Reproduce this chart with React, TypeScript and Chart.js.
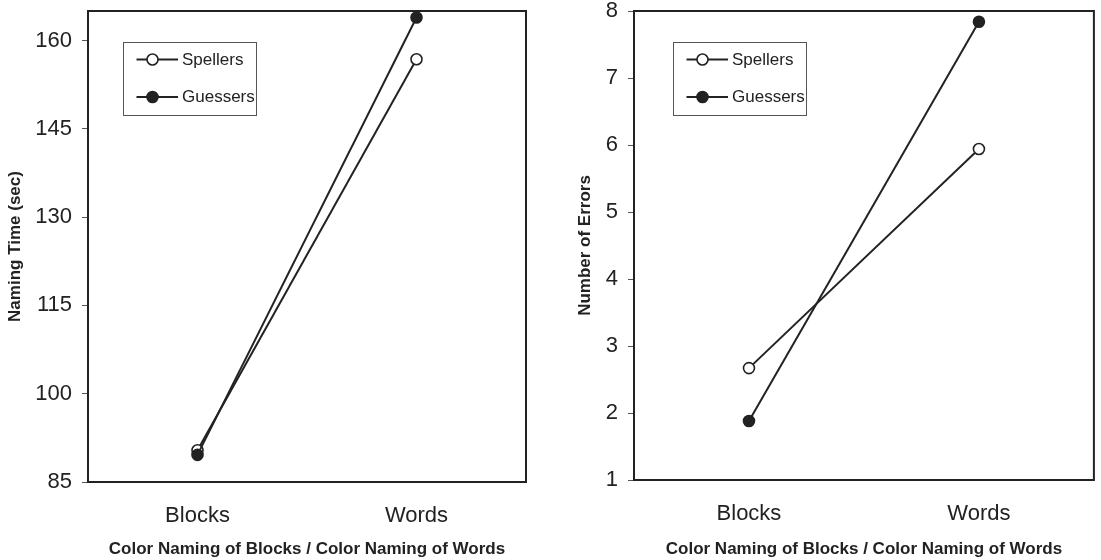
import { useEffect, useRef } from "react";
import { Chart, registerables } from "chart.js";

Chart.register(...registerables);

const CATEGORIES = ["Blocks", "Words"];
const SERIES_NAMES = ["Spellers", "Guessers"];
const TIME_SPELLERS = [90.4, 156.8];
const TIME_GUESSERS = [89.6, 163.9];
const ERR_SPELLERS = [2.67, 5.94];
const ERR_GUESSERS = [1.88, 7.84];
const TIME_TICKS = [85, 100, 115, 130, 145, 160];
const ERR_TICKS = [1, 2, 3, 4, 5, 6, 7, 8];
const X_TITLE = "Color Naming of Blocks / Color Naming of Words";
const TIME_TITLE = "Naming Time (sec)";
const ERR_TITLE = "Number of Errors";

const INK = "#222222";
const FONT = "'Liberation Sans', Arial, Helvetica, sans-serif";

const boxLegend = {
  id: "boxLegend",
  afterDraw(chart: any, _args: any, opts: any) {
    const { ctx, chartArea } = chart;
    ctx.save();
    // plot frame
    ctx.strokeStyle = INK;
    ctx.lineWidth = 2;
    ctx.strokeRect(
      chartArea.left,
      chartArea.top,
      chartArea.right - chartArea.left,
      chartArea.bottom - chartArea.top
    );
    // legend box
    const bx = Math.round(chartArea.left + opts.dx);
    const by = Math.round(chartArea.top + opts.dy);
    ctx.lineWidth = 1;
    ctx.strokeStyle = "#555555";
    ctx.strokeRect(bx + 0.5, by + 0.5, opts.w, opts.h);
    const rows = [17.5, 55];
    chart.data.datasets.forEach((ds: any, i: number) => {
      const y = by + rows[i];
      ctx.strokeStyle = INK;
      ctx.lineWidth = 2;
      ctx.beginPath();
      ctx.moveTo(bx + 13.5, y);
      ctx.lineTo(bx + 55, y);
      ctx.stroke();
      ctx.beginPath();
      ctx.arc(bx + 29.5, y, 5.5, 0, Math.PI * 2);
      ctx.fillStyle = ds.pointBackgroundColor;
      ctx.fill();
      ctx.lineWidth = 1.6;
      ctx.stroke();
      ctx.fillStyle = INK;
      ctx.font = `17px ${FONT}`;
      ctx.textAlign = "left";
      ctx.textBaseline = "middle";
      ctx.fillText(ds.label, bx + 59, y + 0.5);
    });
    ctx.restore();
  },
};

type PanelProps = {
  left: number;
  width: number;
  yMin: number;
  yMax: number;
  yTicks: number[];
  yTitle: string;
  spellers: number[];
  guessers: number[];
  yAxisWidth: number;
  xAxisHeight: number;
  rightPad: number;
  yTitlePad: number;
  legendDx: number;
};

function Panel(p: PanelProps) {
  const ref = useRef<HTMLCanvasElement>(null);
  useEffect(() => {
    const chart = new Chart(ref.current as HTMLCanvasElement, {
      type: "line",
      data: {
        labels: CATEGORIES,
        datasets: [
          {
            label: SERIES_NAMES[0],
            data: p.spellers,
            borderColor: INK,
            borderWidth: 2,
            pointRadius: 5.5,
            pointBorderWidth: 1.6,
            pointBorderColor: INK,
            pointBackgroundColor: "#ffffff",
            order: 2,
          },
          {
            label: SERIES_NAMES[1],
            data: p.guessers,
            borderColor: INK,
            borderWidth: 2,
            pointRadius: 5.5,
            pointBorderWidth: 1.6,
            pointBorderColor: INK,
            pointBackgroundColor: INK,
            order: 1,
          },
        ],
      },
      options: {
        responsive: false,
        animation: false,
        layout: { padding: { top: 11, right: p.rightPad, bottom: 0, left: 0 } },
        plugins: {
          legend: { display: false },
          tooltip: { enabled: false },
          boxLegend: { dx: p.legendDx, dy: 31, w: 133, h: 73 },
        } as any,
        scales: {
          x: {
            type: "category",
            offset: true,
            grid: { display: false, drawTicks: false },
            border: { display: false },
            ticks: {
              padding: 21,
              color: INK,
              maxRotation: 0,
              font: { family: FONT, size: 22 },
            },
            title: {
              display: true,
              text: X_TITLE,
              color: INK,
              font: { family: FONT, size: 17, weight: "bold" },
              padding: { top: 0, bottom: 0 },
            },
            afterFit: (s: any) => {
              s.height = p.xAxisHeight;
              s.paddingLeft = 0;
              s.paddingRight = 0;
            },
          },
          y: {
            type: "linear",
            min: p.yMin,
            max: p.yMax,
            grid: {
              drawOnChartArea: false,
              drawTicks: true,
              tickLength: 6,
              color: "#555555",
              lineWidth: 1,
            },
            border: { display: false },
            ticks: {
              padding: 10,
              color: INK,
              font: { family: FONT, size: 22 },
            },
            afterBuildTicks: (s: any) => {
              s.ticks = p.yTicks.map((v) => ({ value: v }));
            },
            title: {
              display: true,
              text: p.yTitle,
              color: INK,
              font: { family: FONT, size: 17, weight: "bold" },
              padding: { top: p.yTitlePad, bottom: 0 },
            },
            afterFit: (s: any) => {
              s.width = p.yAxisWidth;
              s.paddingTop = 0;
              s.paddingBottom = 0;
            },
          },
        } as any,
      },
      plugins: [boxLegend],
    });
    return () => chart.destroy();
  }, []);
  return (
    <canvas
      ref={ref}
      width={p.width}
      height={560}
      style={{ position: "absolute", left: p.left, top: 0, width: p.width, height: 560, display: "block" }}
    />
  );
}

export default function App() {
  return (
    <div style={{ position: "fixed", left: 0, top: 0, width: 1101, height: 560, background: "#ffffff" }}>
      <Panel
        left={0}
        width={550}
        yMin={85}
        yMax={165}
        yTicks={TIME_TICKS}
        yTitle={TIME_TITLE}
        spellers={TIME_SPELLERS}
        guessers={TIME_GUESSERS}
        yAxisWidth={88}
        xAxisHeight={78}
        rightPad={24}
        yTitlePad={4.8}
        legendDx={35}
      />
      <Panel
        left={550}
        width={551}
        yMin={1}
        yMax={8}
        yTicks={ERR_TICKS}
        yTitle={ERR_TITLE}
        spellers={ERR_SPELLERS}
        guessers={ERR_GUESSERS}
        yAxisWidth={84}
        xAxisHeight={80}
        rightPad={7}
        yTitlePad={24.8}
        legendDx={39}
      />
    </div>
  );
}
